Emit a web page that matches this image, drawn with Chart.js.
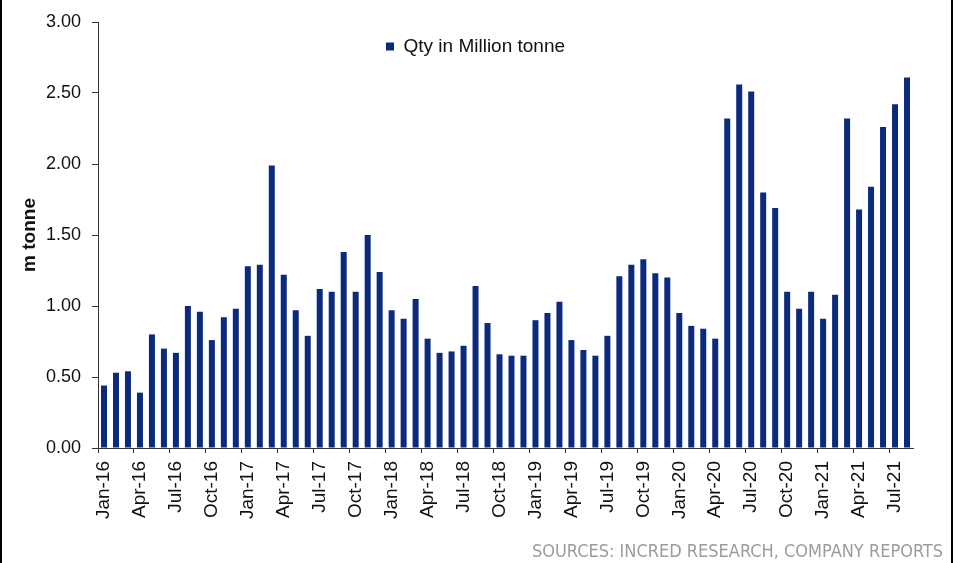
<!DOCTYPE html>
<html>
<head>
<meta charset="utf-8">
<script src="https://cdn.jsdelivr.net/npm/chart.js@4"></script>
<style>
    html, body { margin: 0; padding: 0; background: #fff; }
    #wrap { position: relative; width: 957px; height: 563px; overflow: hidden; }
    #frame {
        position: absolute; left: 0; top: 0; width: 953px; height: 563px;
        box-sizing: border-box; border-left: 2px solid #000; border-right: 2px solid #000;
        pointer-events: none;
    }
    #source {
        position: absolute; right: 14px; top: 540px;
        font: 18px "Liberation Sans Narrow", "DejaVu Sans Condensed", Arial, sans-serif;
        color: #9c9c9c; white-space: nowrap;
    }
</style>
</head>
<body>
<div id="wrap">
    <canvas id="qtyChart" width="957" height="563"></canvas>
    <div id="frame"></div>
    <div id="source">SOURCES: INCRED RESEARCH, COMPANY REPORTS</div>
</div>
<script>
const MONTHS = [
    'Jan-16', 'Feb-16', 'Mar-16', 'Apr-16', 'May-16', 'Jun-16', 'Jul-16', 'Aug-16', 'Sep-16', 'Oct-16', 'Nov-16', 'Dec-16',
    'Jan-17', 'Feb-17', 'Mar-17', 'Apr-17', 'May-17', 'Jun-17', 'Jul-17', 'Aug-17', 'Sep-17', 'Oct-17', 'Nov-17', 'Dec-17',
    'Jan-18', 'Feb-18', 'Mar-18', 'Apr-18', 'May-18', 'Jun-18', 'Jul-18', 'Aug-18', 'Sep-18', 'Oct-18', 'Nov-18', 'Dec-18',
    'Jan-19', 'Feb-19', 'Mar-19', 'Apr-19', 'May-19', 'Jun-19', 'Jul-19', 'Aug-19', 'Sep-19', 'Oct-19', 'Nov-19', 'Dec-19',
    'Jan-20', 'Feb-20', 'Mar-20', 'Apr-20', 'May-20', 'Jun-20', 'Jul-20', 'Aug-20', 'Sep-20', 'Oct-20', 'Nov-20', 'Dec-20',
    'Jan-21', 'Feb-21', 'Mar-21', 'Apr-21', 'May-21', 'Jun-21', 'Jul-21', 'Aug-21'
];

// monthly quantity, million tonne
const QTY = [
    0.44, 0.53, 0.54, 0.39, 0.80, 0.70, 0.67, 1.00, 0.96, 0.76, 0.92, 0.98,
    1.28, 1.29, 1.99, 1.22, 0.97, 0.79, 1.12, 1.10, 1.38, 1.10, 1.50, 1.24,
    0.97, 0.91, 1.05, 0.77, 0.67, 0.68, 0.72, 1.14, 0.88, 0.66, 0.65, 0.65,
    0.90, 0.95, 1.03, 0.76, 0.69, 0.65, 0.79, 1.21, 1.29, 1.33, 1.23, 1.20,
    0.95, 0.86, 0.84, 0.77, 2.32, 2.56, 2.51, 1.80, 1.69, 1.10, 0.98, 1.10,
    0.91, 1.08, 2.32, 1.68, 1.84, 2.26, 2.42, 2.61
];

const Y_TICKS = [0, 0.5, 1, 1.5, 2, 2.5, 3];
const LABEL_EVERY = 3;

const FONT = "'Liberation Sans', Arial, sans-serif";
const BAR_COLOR = '#0b2a7e';
const AXIS_COLOR = '#333';

// keep the legend inside the plot, left of centre
const legendSpot = {
    id: 'legendSpot',
    afterLayout(chart) {
        const lg = chart.legend;
        if (!lg) return;
        lg.left = 371;
        lg.right = 800;
        lg.top = chart.chartArea.top;
    }
};

new Chart(document.getElementById('qtyChart'), {
    type: 'bar',
    data: {
        labels: MONTHS,
        datasets: [{
            label: 'Qty in Million tonne',
            data: QTY,
            backgroundColor: BAR_COLOR,
            borderWidth: 0,
            barPercentage: 0.5,
            categoryPercentage: 1
        }]
    },
    options: {
        responsive: false,
        animation: false,
        layout: { padding: { top: 22, right: 44, bottom: 0, left: 0 } },
        plugins: {
            legend: {
                position: 'chartArea',
                align: 'start',
                labels: {
                    boxWidth: 8,
                    boxHeight: 8,
                    padding: 15,
                    color: '#111',
                    font: { family: FONT, size: 19 }
                }
            },
            tooltip: { enabled: false }
        },
        scales: {
            x: {
                offset: true,
                grid: {
                    offset: true,
                    drawOnChartArea: false,
                    tickLength: 5,
                    color: c => (c.index % LABEL_EVERY === 0 ? AXIS_COLOR : 'rgba(0,0,0,0)')
                },
                border: { color: AXIS_COLOR, width: 1 },
                ticks: {
                    autoSkip: false,
                    minRotation: 90,
                    maxRotation: 90,
                    padding: 8,
                    color: '#111',
                    font: { family: FONT, size: 19 },
                    callback: (v, i) => (i % LABEL_EVERY === 0 ? MONTHS[i] : '')
                },
                afterFit: s => { s.height = 115; }
            },
            y: {
                min: 0,
                max: 3,
                afterBuildTicks: s => { s.ticks = Y_TICKS.map(v => ({ value: v })); },
                grid: { drawOnChartArea: false, tickLength: 6, color: AXIS_COLOR },
                border: { color: AXIS_COLOR, width: 1 },
                ticks: {
                    padding: 11,
                    color: '#111',
                    font: { family: FONT, size: 18 },
                    callback: v => v.toFixed(2)
                },
                title: {
                    display: true,
                    text: 'm tonne',
                    color: '#111',
                    padding: { top: 18, bottom: 0 },
                    font: { family: FONT, size: 19, weight: 'bold' }
                },
                afterFit: s => { s.width = 98; }
            }
        }
    },
    plugins: [legendSpot]
});
</script>
</body>
</html>
